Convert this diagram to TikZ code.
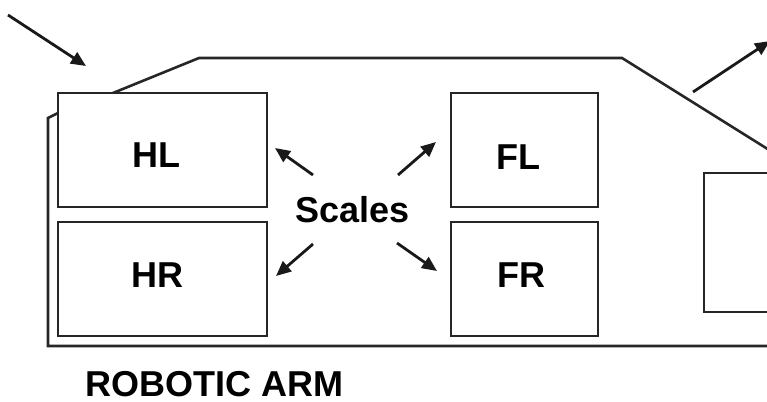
\documentclass[tikz,border=0pt]{standalone}
\usepackage{fontspec}
\setmainfont{Liberation Sans}
\usetikzlibrary{arrows.meta}
\begin{document}
\begin{tikzpicture}[x=1pt,y=-1pt,
  outline/.style={line width=2.6pt,draw=black!85,line join=miter},
  panel/.style={outline,fill=white,rectangle,inner sep=0pt},
  pointer/.style={line width=2.8pt,draw=black!90,
    -{Triangle[length=15pt,width=13pt]}},
  caption/.style={font=\fontsize{36}{40}\selectfont\bfseries,inner sep=0pt,
    anchor=base}]
\useasboundingbox (0,0) rectangle (767,401);
\clip (0,0) rectangle (767,401);

% base plate outline
\draw[outline] (790,346) -- (48,346) -- (48,118) -- (58,113) -- (113,93)
  -- (199,58) -- (622,58) -- (790,163);

% scale panels
\node[panel,minimum width=209pt,minimum height=114pt] (hl) at (162.5,150) {};
\node[panel,minimum width=209pt,minimum height=114pt] (hr) at (162.5,279) {};
\node[panel,minimum width=147pt,minimum height=114pt] (fl) at (524.5,150) {};
\node[panel,minimum width=147pt,minimum height=114pt] (fr) at (524.5,279) {};
\node[panel,minimum width=120pt,minimum height=139pt] (side) at (764,242.5) {};

% panel labels
\node[caption] (hlt) at (156,167) {HL};
\node[caption] (hrt) at (157.5,287) {HR};
\node[caption] (flt) at (518.5,169) {FL};
\node[caption] (frt) at (521,287) {FR};

% scales label with pointers
\node[caption] (scales) at (352.5,222) {Scales};
\coordinate (hlT) at (313,175); \coordinate (hlH) at (275,148);
\coordinate (flT) at (398,175); \coordinate (flH) at (436,142);
\coordinate (hrT) at (313,244); \coordinate (hrH) at (276,276);
\coordinate (frT) at (397,243); \coordinate (frH) at (437,271);
\draw[pointer] (hlT) -- (hlH);
\draw[pointer] (flT) -- (flH);
\draw[pointer] (hrT) -- (hrH);
\draw[pointer] (frT) -- (frH);

% motion arrows
\coordinate (inT) at (8,15); \coordinate (inH) at (86,66);
\coordinate (outT) at (693,92); \coordinate (outH) at (770,41);
\draw[pointer] (inT) -- (inH);
\draw[pointer] (outT) -- (outH);

% caption
\node[caption,anchor=base west] (arm) at (85,396) {ROBOTIC ARM};
\end{tikzpicture}
\end{document}
